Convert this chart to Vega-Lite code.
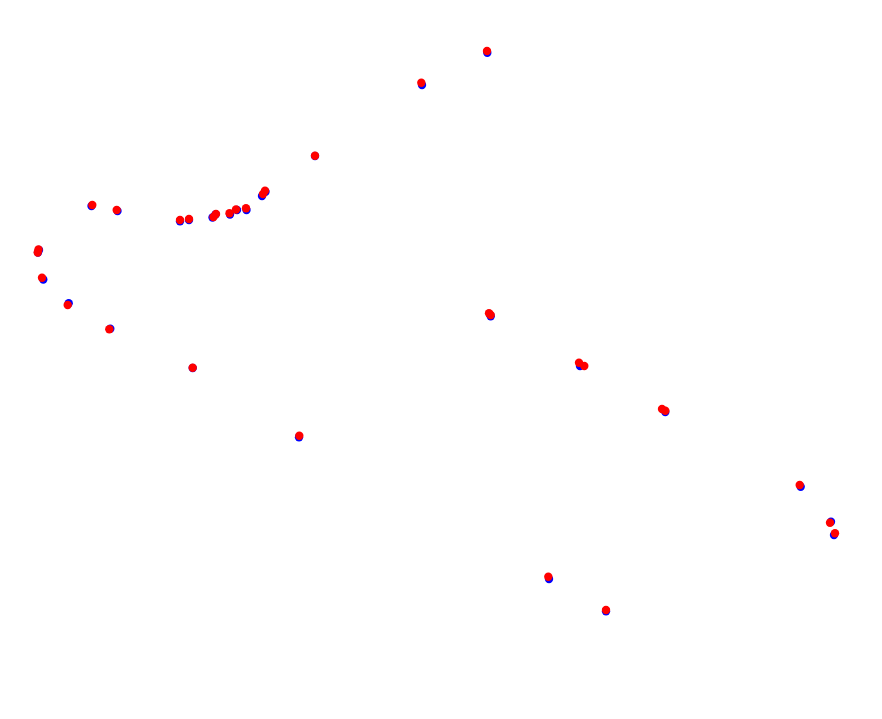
{
  "$schema": "https://vega.github.io/schema/vega-lite/v6.json",
  "width": 882,
  "height": 719,
  "autosize": {"type": "fit", "contains": "padding"},
  "padding": 0,
  "background": "white",
  "config": {"view": {"stroke": null}},
  "data": {"values": [
    {"s": "blue", "x": 91.5, "y": 206},
    {"s": "blue", "x": 117.5, "y": 211},
    {"s": "blue", "x": 38, "y": 252.5},
    {"s": "blue", "x": 39, "y": 250},
    {"s": "blue", "x": 43.3, "y": 279.5},
    {"s": "blue", "x": 68.7, "y": 303.3},
    {"s": "blue", "x": 110.3, "y": 328.8},
    {"s": "blue", "x": 180, "y": 221.3},
    {"s": "blue", "x": 189, "y": 220},
    {"s": "blue", "x": 212.5, "y": 217.5},
    {"s": "blue", "x": 215.5, "y": 214.5},
    {"s": "blue", "x": 230, "y": 214.5},
    {"s": "blue", "x": 237, "y": 210},
    {"s": "blue", "x": 246.5, "y": 210},
    {"s": "blue", "x": 262, "y": 196},
    {"s": "blue", "x": 265.5, "y": 191.7},
    {"s": "blue", "x": 315, "y": 156},
    {"s": "blue", "x": 422, "y": 85},
    {"s": "blue", "x": 487.3, "y": 52.7},
    {"s": "blue", "x": 192.7, "y": 368},
    {"s": "blue", "x": 299, "y": 437.3},
    {"s": "blue", "x": 490.7, "y": 316.3},
    {"s": "blue", "x": 580, "y": 366},
    {"s": "blue", "x": 665.3, "y": 412},
    {"s": "blue", "x": 549, "y": 579},
    {"s": "blue", "x": 606, "y": 611.3},
    {"s": "blue", "x": 800.7, "y": 486.7},
    {"s": "blue", "x": 831, "y": 521.7},
    {"s": "blue", "x": 834, "y": 535},
    {"s": "red", "x": 92.3, "y": 205},
    {"s": "red", "x": 116.7, "y": 210},
    {"s": "red", "x": 37.7, "y": 252.5},
    {"s": "red", "x": 38.5, "y": 249.5},
    {"s": "red", "x": 42, "y": 277.7},
    {"s": "red", "x": 67.7, "y": 305},
    {"s": "red", "x": 109.3, "y": 329.3},
    {"s": "red", "x": 180, "y": 220},
    {"s": "red", "x": 189, "y": 219},
    {"s": "red", "x": 213.5, "y": 217},
    {"s": "red", "x": 216, "y": 214},
    {"s": "red", "x": 229.5, "y": 213.3},
    {"s": "red", "x": 236, "y": 209.5},
    {"s": "red", "x": 246, "y": 208.3},
    {"s": "red", "x": 263, "y": 194},
    {"s": "red", "x": 265, "y": 190.7},
    {"s": "red", "x": 315, "y": 155.7},
    {"s": "red", "x": 421.3, "y": 82.7},
    {"s": "red", "x": 487, "y": 51},
    {"s": "red", "x": 192.7, "y": 367.7},
    {"s": "red", "x": 299.3, "y": 435.7},
    {"s": "red", "x": 489, "y": 313.3},
    {"s": "red", "x": 490.7, "y": 315},
    {"s": "red", "x": 579, "y": 362.7},
    {"s": "red", "x": 584.3, "y": 366},
    {"s": "red", "x": 662, "y": 409},
    {"s": "red", "x": 665.3, "y": 410.7},
    {"s": "red", "x": 548.3, "y": 576.7},
    {"s": "red", "x": 606, "y": 610},
    {"s": "red", "x": 799.7, "y": 485},
    {"s": "red", "x": 830, "y": 522.7},
    {"s": "red", "x": 835, "y": 533.3}
  ]},
  "mark": {"type": "point", "filled": true, "opacity": 1, "size": 70, "shape": "circle"},
  "encoding": {
    "x": {"field": "x", "type": "quantitative", "scale": {"domain": [0, 882], "nice": false, "zero": false}, "axis": null},
    "y": {"field": "y", "type": "quantitative", "scale": {"domain": [0, 719], "nice": false, "zero": false, "reverse": true}, "axis": null},
    "color": {"field": "s", "type": "nominal", "scale": {"domain": ["blue", "red"], "range": ["#0000ff", "#ff0000"]}, "legend": null}
  }
}
